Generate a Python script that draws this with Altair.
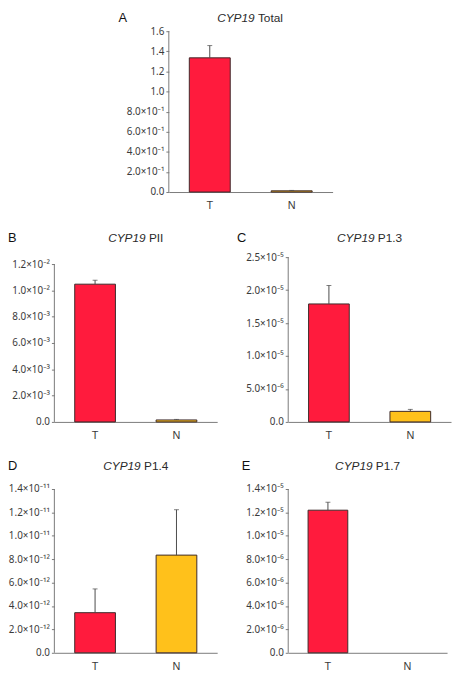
import altair as alt
import pandas as pd

groups = ["T", "N"]
gene = "CYP19"

a_values = [1.335, 0.012]
a_err = [1.457, 0.016]
a_ticks = [0.0, 0.2, 0.4, 0.6, 0.8, 1.0, 1.2, 1.4, 1.6]
a_labels = ["0.0", "2.0×10⁻¹", "4.0×10⁻¹", "6.0×10⁻¹", "8.0×10⁻¹", "1.0", "1.2", "1.4", "1.6"]

b_values = [0.01047, 0.00015]
b_err = [0.01077, 0.00019]
b_ticks = [0.0, 0.002, 0.004, 0.006, 0.008, 0.010, 0.012]
b_labels = ["0.0", "2.0×10⁻³", "4.0×10⁻³", "6.0×10⁻³", "8.0×10⁻³", "1.0×10⁻²", "1.2×10⁻²"]

c_values = [1.79e-5, 1.6e-6]
c_err = [2.07e-5, 1.9e-6]
c_ticks = [0.0, 5e-6, 1e-5, 1.5e-5, 2e-5, 2.5e-5]
c_labels = ["0.0", "5.0×10⁻⁶", "1.0×10⁻⁵", "1.5×10⁻⁵", "2.0×10⁻⁵", "2.5×10⁻⁵"]

d_values = [3.43e-12, 8.35e-12]
d_err = [5.46e-12, 1.223e-11]
d_ticks = [0.0, 2e-12, 4e-12, 6e-12, 8e-12, 1e-11, 1.2e-11, 1.4e-11]
d_labels = ["0.0", "2.0×10⁻¹²", "4.0×10⁻¹²", "6.0×10⁻¹²", "8.0×10⁻¹²", "1.0×10⁻¹¹", "1.2×10⁻¹¹", "1.4×10⁻¹¹"]

e_values = [1.219e-5, 0.0]
e_err = [1.287e-5, None]
e_ticks = [0.0, 2e-6, 4e-6, 6e-6, 8e-6, 1e-5, 1.2e-5, 1.4e-5]
e_labels = ["0.0", "2.0×10⁻⁶", "4.0×10⁻⁶", "6.0×10⁻⁶", "8.0×10⁻⁶", "1.0×10⁻⁵", "1.2×10⁻⁵", "1.4×10⁻⁵"]

FONT = "Liberation Sans"
LFONT = "Noto Sans"
AX = "#7a7a7a"
TXT = "#3a3a3a"
ERR = "#4a4a4a"
RED = "#FF1B3D"
YEL = "#FFC11B"
EDGE = "#3d2a2a"

# approximate Arial advance widths (per 1000 em) for title centering
ADV = {"T": 611, "o": 556, "t": 278, "a": 556, "l": 222, "P": 667, "I": 278,
       "1": 556, ".": 278, "3": 556, "4": 556, "7": 556, " ": 278,
       "C": 722, "Y": 667, "9": 556}


def text_w(s, size):
    return sum(ADV.get(ch, 556) for ch in s) * size / 1000.0


def label_expr(ticks, labels):
    tol = (ticks[1] - ticks[0]) * 0.01
    expr = "''"
    for t, l in reversed(list(zip(ticks, labels))):
        expr = f"abs(datum.value - ({t!r})) < {tol!r} ? '{l}' : " + expr
    return expr


def panel(letter, suffix, values, errs, ticks, labels, view_w, height, ymax,
          letter_dx, title_dy, x0=0, plot_w=None, plot_h=None):
    """x0: left edge of the drawn plot relative to the view's origin.
    plot_h: drawn plot height (may exceed the view height used for layout)."""
    if plot_w is None:
        plot_w = view_w
    if plot_h is None:
        plot_h = height
    df = pd.DataFrame({"group": groups, "value": values, "err": errs})
    bar_df = df[df["value"] > 0]
    err_df = df.dropna(subset=["err"])

    x = alt.X("group:N",
              scale=alt.Scale(domain=groups, paddingInner=0.5, paddingOuter=0.25,
                              range=[x0, x0 + plot_w]),
              axis=alt.Axis(title=None, labelAngle=0, ticks=False, tickSize=0,
                            labelPadding=8, labelFontSize=11, labelColor=TXT,
                            domainColor=AX, labelFont=FONT,
                            offset=plot_h - height))

    def make_y(field):
        return alt.Y(field,
                     scale=alt.Scale(domain=[0, ymax], nice=False, zero=True,
                                     range=[plot_h, 0]),
                     axis=alt.Axis(title=None, values=ticks, offset=-x0,
                                   labelExpr=label_expr(ticks, labels),
                                   domain=False, grid=False, tickSize=3,
                                   tickColor=AX, labelPadding=2,
                                   labelFontSize=10, labelColor=TXT,
                                   labelFont=LFONT))

    axis_line = alt.Chart(pd.DataFrame({"value": [0.0], "err": [ticks[-1]]})).mark_rule(
        color=AX, strokeWidth=1).encode(x=alt.value(x0), y=make_y("value:Q"), y2="err:Q")

    bars = alt.Chart(bar_df).mark_bar(stroke=EDGE, strokeWidth=1).encode(
        x=x, y=make_y("value:Q"),
        color=alt.Color("group:N", scale=alt.Scale(domain=groups, range=[RED, YEL]),
                        legend=None))

    whisk = alt.Chart(err_df).mark_rule(color=ERR, strokeWidth=1).encode(
        x=x, y=make_y("value:Q"), y2="err:Q")
    cap = alt.Chart(err_df).mark_tick(color=ERR, size=5, thickness=1,
                                      orient="horizontal").encode(
        x=x, y=make_y("err:Q"))

    one = pd.DataFrame({"k": [0]})
    gsize = 12
    gw = text_w(gene, gsize)
    sw = text_w(" ", gsize)
    suw = text_w(suffix, gsize)
    start = x0 + plot_w / 2 - (gw + sw + suw) / 2
    split = start + gw

    letter_t = alt.Chart(one).mark_text(text=letter, fontSize=13, align="left",
                                        baseline="middle", color="#111111",
                                        font=FONT).encode(
        x=alt.value(x0 + letter_dx), y=alt.value(title_dy))
    gene_t = alt.Chart(one).mark_text(text=gene, fontSize=gsize, fontStyle="italic",
                                      align="right", baseline="middle",
                                      color="#2a2a2a", font=FONT).encode(
        x=alt.value(split), y=alt.value(title_dy))
    suf_t = alt.Chart(one).mark_text(text=suffix, fontSize=gsize, align="left",
                                     baseline="middle", color="#2a2a2a",
                                     font=FONT).encode(
        x=alt.value(split + sw), y=alt.value(title_dy))

    return alt.layer(axis_line, bars, whisk, cap, letter_t, gene_t, suf_t).properties(
        width=view_w, height=height)


spacer = alt.Chart(pd.DataFrame({"s": [0]})).mark_point(opacity=0).encode(
    x=alt.value(0), y=alt.value(0)).properties(width=40, height=150)

# Panel A sits in the right-hand grid column; its plot starts 121px left of that column
pa = panel("A", "Total", a_values, a_err, a_ticks, a_labels, 45, 161, 1.6, -51, -13,
           x0=-121, plot_w=166, plot_h=163)
pb = panel("B", "PII", b_values, b_err, b_ticks, b_labels, 165, 167, 0.012 * 167 / 160, -47, -19)
pc = panel("C", "P1.3", c_values, c_err, c_ticks, c_labels, 165, 167, 2.5e-5, -52, -19)
pd_ = panel("D", "P1.4", d_values, d_err, d_ticks, d_labels, 165, 166, 1.4e-11, -47, -23)
pe = panel("E", "P1.7", e_values, e_err, e_ticks, e_labels, 161, 166, 1.4e-5, -47, -23)

chart = alt.concat(
    spacer, pa, pb, pc, pd_, pe,
    columns=2,
    spacing={"row": 68, "column": 72},
    align={"row": "each", "column": "all"},
    bounds="flush",
).properties(padding=0).configure_view(stroke=None)

chart.save("out.html", embed_options={"renderer": "svg", "actions": False})
